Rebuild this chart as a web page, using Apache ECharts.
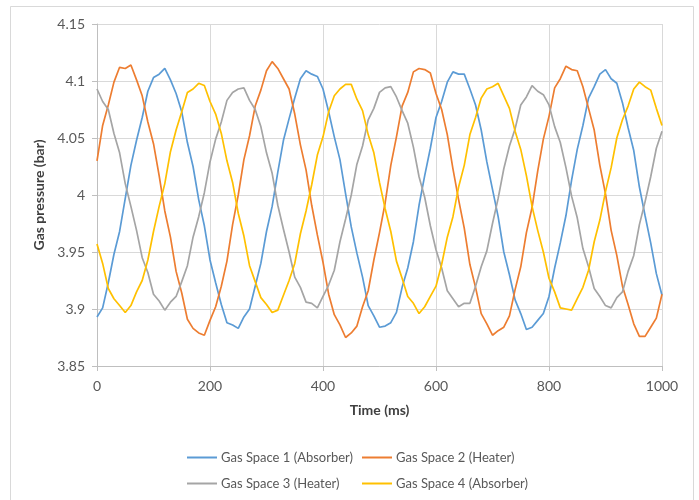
<!DOCTYPE html>
<html>
<head>
<meta charset="utf-8">
<script src="https://cdn.jsdelivr.net/npm/echarts@6/dist/echarts.min.js"></script>
<style>
html,body{margin:0;padding:0;background:#fff;}
#chart{width:699px;height:500px;}
</style>
</head>
<body>
<div id="chart"></div>
<script>
var times = [0,10,20,30,40,50,60,70,80,90,100,110,120,130,140,150,160,170,180,190,200,210,220,230,240,250,260,270,280,290,300,310,320,330,340,350,360,370,380,390,400,410,420,430,440,450,460,470,480,490,500,510,520,530,540,550,560,570,580,590,600,610,620,630,640,650,660,670,680,690,700,710,720,730,740,750,760,770,780,790,800,810,820,830,840,850,860,870,880,890,900,910,920,930,940,950,960,970,980,990,1000];

var seriesNames = ['Gas Space 1 (Absorber)','Gas Space 2 (Heater)','Gas Space 3 (Heater)','Gas Space 4 (Absorber)'];

var gasSpace1 = [3.893,3.901,3.923,3.948,3.968,3.997,4.026,4.048,4.068,4.091,4.103,4.106,4.111,4.101,4.089,4.073,4.046,4.025,3.996,3.973,3.943,3.923,3.904,3.888,3.886,3.883,3.893,3.900,3.920,3.940,3.968,3.990,4.020,4.048,4.067,4.085,4.102,4.109,4.106,4.104,4.093,4.073,4.051,4.031,4.001,3.972,3.949,3.928,3.903,3.894,3.884,3.885,3.888,3.897,3.919,3.936,3.959,3.991,4.017,4.041,4.068,4.082,4.099,4.108,4.106,4.106,4.093,4.079,4.057,4.029,4.005,3.981,3.950,3.930,3.908,3.896,3.882,3.884,3.890,3.896,3.911,3.936,3.958,3.982,4.013,4.040,4.061,4.085,4.095,4.106,4.110,4.102,4.098,4.081,4.059,4.039,4.007,3.982,3.958,3.931,3.912];

var gasSpace2 = [4.030,4.061,4.079,4.099,4.112,4.111,4.114,4.101,4.087,4.064,4.045,4.017,3.986,3.963,3.933,3.914,3.891,3.883,3.879,3.877,3.890,3.902,3.920,3.942,3.974,4.000,4.031,4.052,4.078,4.092,4.109,4.117,4.111,4.102,4.093,4.071,4.044,4.022,3.991,3.965,3.941,3.913,3.895,3.886,3.875,3.879,3.885,3.902,3.916,3.943,3.967,3.993,4.026,4.051,4.078,4.090,4.108,4.111,4.110,4.107,4.089,4.075,4.053,4.023,3.996,3.971,3.939,3.919,3.896,3.887,3.877,3.881,3.884,3.894,3.917,3.937,3.967,3.989,4.021,4.049,4.069,4.094,4.102,4.113,4.110,4.109,4.095,4.076,4.057,4.026,4.001,3.969,3.947,3.920,3.904,3.887,3.876,3.876,3.884,3.892,3.913];

var gasSpace3 = [4.093,4.082,4.075,4.054,4.037,4.010,3.990,3.969,3.945,3.932,3.913,3.907,3.899,3.906,3.911,3.924,3.938,3.963,3.981,4.002,4.029,4.049,4.064,4.083,4.090,4.093,4.094,4.083,4.075,4.060,4.037,4.019,3.991,3.970,3.950,3.928,3.919,3.906,3.905,3.901,3.911,3.921,3.934,3.959,3.979,4.000,4.027,4.043,4.066,4.076,4.090,4.094,4.095,4.086,4.074,4.063,4.042,4.016,3.998,3.973,3.952,3.936,3.916,3.909,3.902,3.905,3.905,3.920,3.937,3.951,3.975,3.997,4.023,4.043,4.058,4.079,4.086,4.096,4.091,4.088,4.079,4.060,4.046,4.024,3.999,3.980,3.953,3.937,3.918,3.911,3.903,3.901,3.910,3.915,3.933,3.947,3.974,3.994,4.016,4.041,4.056];

var gasSpace4 = [3.957,3.940,3.918,3.909,3.903,3.897,3.903,3.915,3.925,3.943,3.968,3.990,4.010,4.038,4.057,4.073,4.090,4.093,4.098,4.096,4.082,4.071,4.054,4.030,4.011,3.984,3.964,3.938,3.924,3.910,3.904,3.897,3.899,3.912,3.925,3.940,3.966,3.986,4.009,4.035,4.051,4.073,4.087,4.093,4.097,4.097,4.084,4.074,4.053,4.037,4.011,3.988,3.968,3.942,3.927,3.911,3.905,3.896,3.902,3.911,3.920,3.939,3.963,3.981,4.007,4.026,4.053,4.068,4.085,4.093,4.095,4.098,4.087,4.076,4.056,4.040,4.017,3.990,3.969,3.950,3.927,3.915,3.901,3.900,3.899,3.909,3.919,3.934,3.959,3.978,4.003,4.024,4.050,4.066,4.078,4.093,4.099,4.095,4.092,4.076,4.061];

var colors = ['#5B9BD5','#ED7D31','#A5A5A5','#FFC000'];
var yTicks = {min:3.85, max:4.15, interval:0.05};
var xTicks = {min:0, max:1000, interval:200};

function pairs(vals){ return times.map(function(t,i){ return [t, vals[i]]; }); }
var allValues = [gasSpace1, gasSpace2, gasSpace3, gasSpace4];

var FONT = 'Lato';
var chart = echarts.init(document.getElementById('chart'), null, {renderer:'canvas'});

var legendPos = [
  {left:182, top:446},
  {left:357, top:446},
  {left:182, top:472},
  {left:357, top:472}
];

var option = {
  animation:false,
  backgroundColor:'#ffffff',
  color: colors,
  graphic:[{
    type:'rect', silent:true, z:-10,
    shape:{x:10.5, y:6.5, width:683, height:520},
    style:{fill:'#ffffff', stroke:'#D9D9D9', lineWidth:1}
  }],
  grid:{left:97, right:37, top:24, bottom:134, containLabel:false},
  xAxis:{
    type:'value', min:xTicks.min, max:xTicks.max, interval:xTicks.interval,
    name:'Time (ms)', nameLocation:'middle', nameGap:37,
    nameTextStyle:{fontFamily:FONT, fontSize:14, fontWeight:'bold', color:'#404040'},
    axisLine:{show:true, lineStyle:{color:'#BFBFBF', width:1}},
    axisTick:{show:true, inside:false, length:5, lineStyle:{color:'#BFBFBF'}},
    axisLabel:{fontFamily:FONT, fontSize:14, color:'#595959', margin:13,
      formatter:function(v){ return String(v); }},
    splitLine:{show:true, lineStyle:{color:'#D9D9D9', width:1}}
  },
  yAxis:{
    type:'value', min:yTicks.min, max:yTicks.max, interval:yTicks.interval,
    name:'Gas pressure (bar)', nameLocation:'middle', nameGap:50, nameRotate:90,
    nameTextStyle:{fontFamily:FONT, fontSize:14, fontWeight:'bold', color:'#404040'},
    axisLine:{show:true, lineStyle:{color:'#BFBFBF', width:1}},
    axisTick:{show:true, inside:false, length:5, lineStyle:{color:'#BFBFBF'}},
    axisLabel:{fontFamily:FONT, fontSize:14, color:'#595959', margin:12},
    splitLine:{show:true, lineStyle:{color:'#D9D9D9', width:1}}
  },
  legend: seriesNames.map(function(n,i){
    return {
      data:[n], left:legendPos[i].left, top:legendPos[i].top,
      icon:'rect', itemWidth:30, itemHeight:2, itemGap:4,
      textStyle:{fontFamily:FONT, fontSize:13, color:'#595959', padding:[0,0,0,-1]},
      selectedMode:false
    };
  }),
  series: seriesNames.map(function(n,i){
    return {
      name:n, type:'line', data:pairs(allValues[i]),
      symbol:'none', smooth:false,
      lineStyle:{color:colors[i], width:1.7},
      itemStyle:{color:colors[i]}
    };
  })
};
chart.setOption(option);
</script>
</body>
</html>
